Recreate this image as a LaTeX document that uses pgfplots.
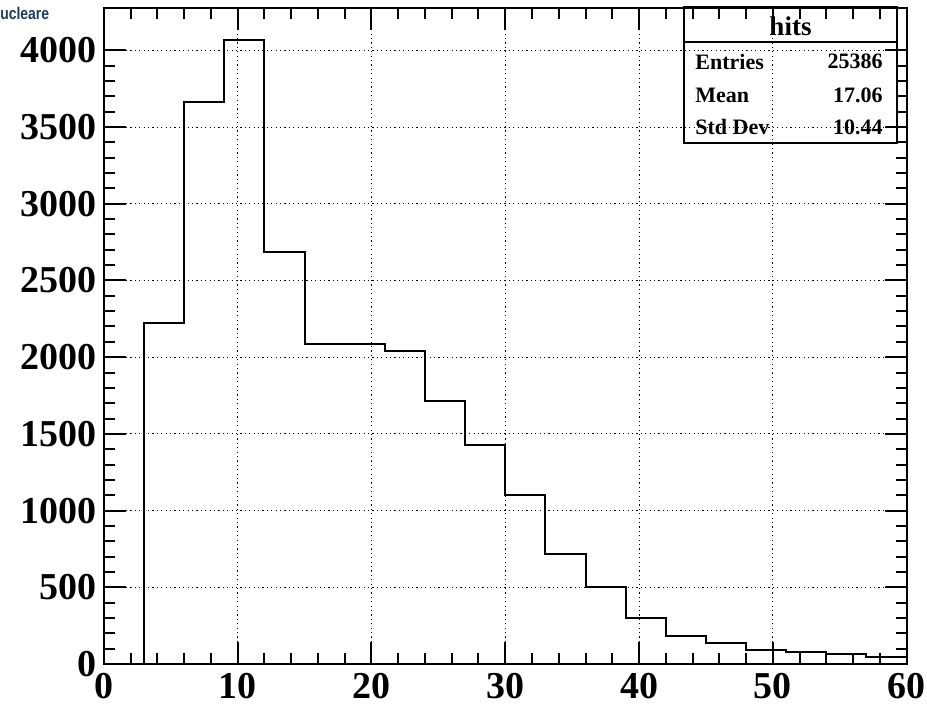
\documentclass[border=0pt]{standalone}
\usepackage{fontspec}
\setmainfont{Liberation Serif}
\newfontfamily\titlefont{Liberation Sans}
\usepackage{pgfplots}
\pgfplotsset{compat=1.18}
\definecolor{titleblue}{HTML}{1F3B5C}
\begin{document}
\begin{tikzpicture}
\begin{axis}[
  name=main, scale only axis,
  width=401.25pt, height=328pt,
  xmin=0, xmax=60, ymin=0, ymax=4276,
  xtick={0,10,...,60}, ytick={0,500,...,4000},
  minor x tick num=4, minor y tick num=4,
  tick align=inside,
  major tick length=11pt, minor tick length=5.5pt,
  grid=major,
  major grid style={black, line width=0.5pt, dash pattern=on 0.6pt off 1.6pt},
  axis line style={line width=1pt},
  every tick/.style={black, line width=1pt},
  ticklabel style={font=\fontsize{19}{22}\selectfont\bfseries},
  /pgf/number format/assume math mode=true,
  /pgf/number format/1000 sep={},
  scaled ticks=false,
  yticklabel style={inner sep=3.5pt},
  xticklabel style={inner sep=4.5pt},
]
\addplot[const plot, black, line width=1pt] coordinates {
(3,0) (3,2225) (6,3663) (9,4070) (12,2685) (15,2085) (18,2085) (21,2041)
(24,1715) (27,1426) (30,1104) (33,715) (36,504) (39,300) (42,184)
(45,137) (48,91) (51,78) (54,67) (57,44) (60,44)
};
\end{axis}
\begin{scope}[shift={(main.south west)}, x=1pt, y=1pt]
% stats box
\draw[line width=1pt] (290,260.65) rectangle (396.5,328.35);
\draw[line width=1pt] (290,310.85) -- (396.5,310.85);
\node[font=\fontsize{13.5}{15}\selectfont\bfseries] at (343.25,319) {hits};
\node[anchor=west,inner sep=0pt,font=\fontsize{11}{13}\selectfont\bfseries] at (295.5,301.15) {Entries};
\node[anchor=west,inner sep=0pt,font=\fontsize{11}{13}\selectfont\bfseries] at (295.5,284.5) {Mean};
\node[anchor=west,inner sep=0pt,font=\fontsize{11}{13}\selectfont\bfseries] at (295.5,268.5) {Std Dev};
\node[anchor=east,inner sep=0pt,font=\fontsize{11}{13}\selectfont\bfseries] at (389.5,301.15) {25386};
\node[anchor=east,inner sep=0pt,font=\fontsize{11}{13}\selectfont\bfseries] at (389.5,284.5) {17.06};
\node[anchor=east,inner sep=0pt,font=\fontsize{11}{13}\selectfont\bfseries] at (389.5,268.5) {10.44};
\node[anchor=west, inner sep=0pt, text=titleblue, xscale=0.82, font=\titlefont\fontsize{8.5}{10}\selectfont\bfseries] at (-52,325.5) {ucleare};
\pgfresetboundingbox
\path[use as bounding box] (-52,-21.5) rectangle (411.5,332);
\end{scope}
\end{tikzpicture}
\end{document}
